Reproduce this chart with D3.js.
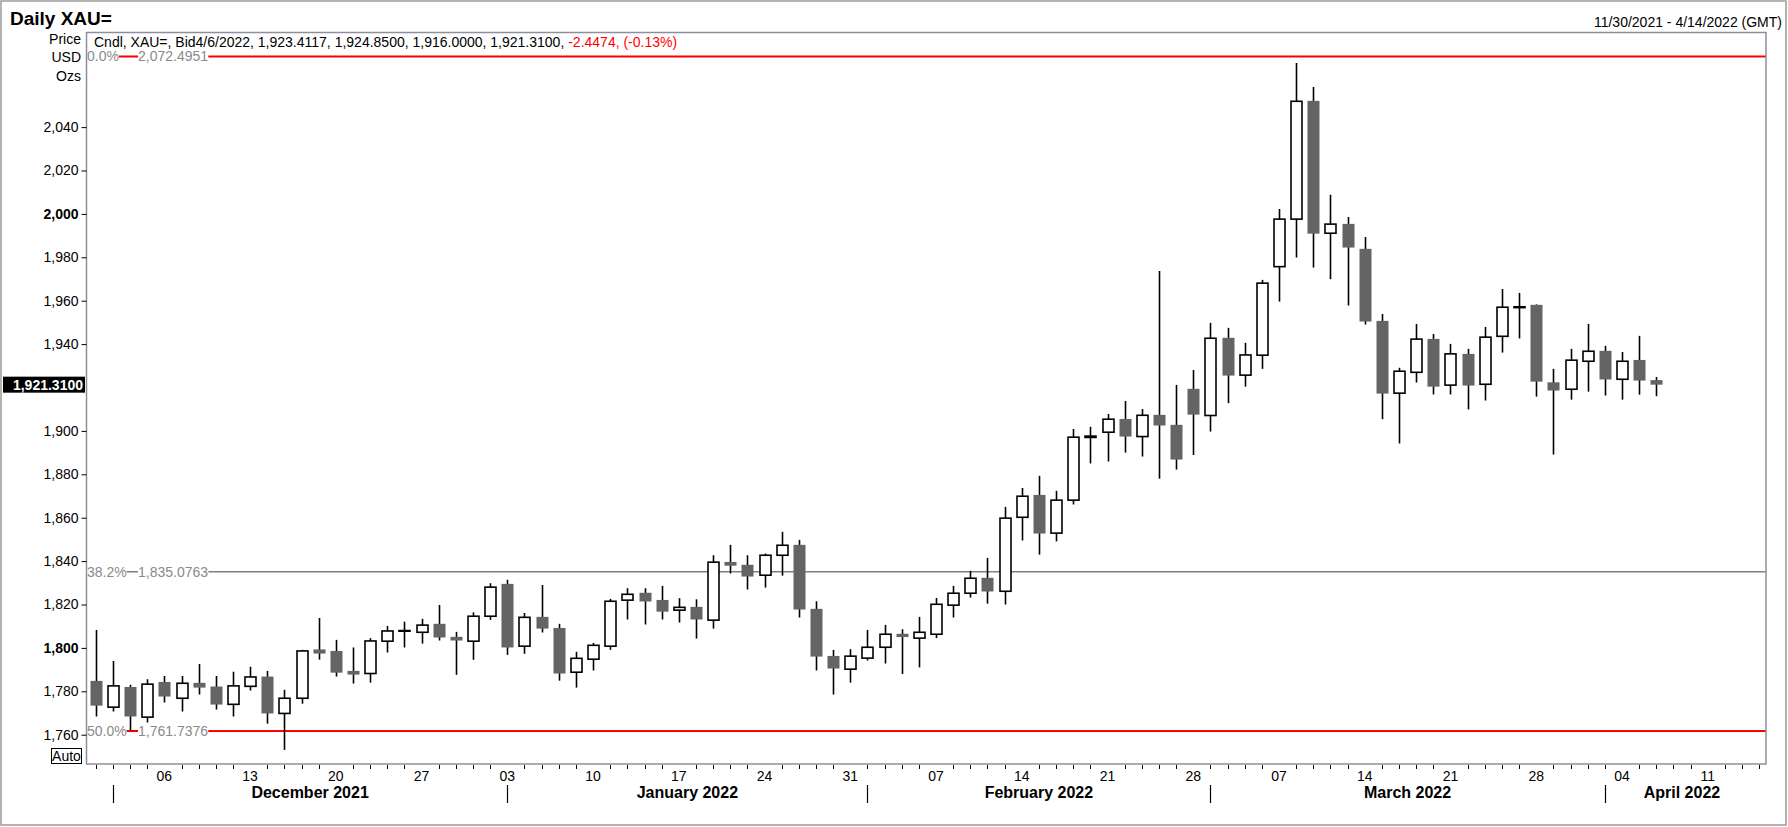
<!DOCTYPE html>
<html><head><meta charset="utf-8">
<script src="https://cdn.jsdelivr.net/npm/d3@7"></script>
<style>
body{margin:0;background:#fff}
svg{display:block}
text{font-family:"Liberation Sans",Arial,Helvetica,sans-serif}
</style>
</head><body>
<svg id="c" width="1788" height="827"></svg>
<script>
// ---- Data ----
const dates = ["2021-11-30","2021-12-01","2021-12-02","2021-12-03","2021-12-06","2021-12-07","2021-12-08","2021-12-09","2021-12-10",
"2021-12-13","2021-12-14","2021-12-15","2021-12-16","2021-12-17","2021-12-20","2021-12-21","2021-12-22","2021-12-23","2021-12-24",
"2021-12-27","2021-12-28","2021-12-29","2021-12-30","2021-12-31","2022-01-03","2022-01-04","2022-01-05","2022-01-06","2022-01-07",
"2022-01-10","2022-01-11","2022-01-12","2022-01-13","2022-01-14","2022-01-17","2022-01-18","2022-01-19","2022-01-20","2022-01-21",
"2022-01-24","2022-01-25","2022-01-26","2022-01-27","2022-01-28","2022-01-31","2022-02-01","2022-02-02","2022-02-03","2022-02-04",
"2022-02-07","2022-02-08","2022-02-09","2022-02-10","2022-02-11","2022-02-14","2022-02-15","2022-02-16","2022-02-17","2022-02-18",
"2022-02-21","2022-02-22","2022-02-23","2022-02-24","2022-02-25","2022-02-28","2022-03-01","2022-03-02","2022-03-03","2022-03-04",
"2022-03-07","2022-03-08","2022-03-09","2022-03-10","2022-03-11","2022-03-14","2022-03-15","2022-03-16","2022-03-17","2022-03-18",
"2022-03-21","2022-03-22","2022-03-23","2022-03-24","2022-03-25","2022-03-28","2022-03-29","2022-03-30","2022-03-31","2022-04-01",
"2022-04-04","2022-04-05","2022-04-06"];

const open = [1784.8,1772.7,1782.0,1768.1,1784.3,1776.8,1783.9,1782.2,1774.0,
1782.3,1786.8,1769.8,1776.8,1799.3,1798.6,1789.4,1788.2,1803.1,1807.7,
1807.2,1811.1,1805.1,1803.1,1814.6,1829.5,1800.8,1814.3,1809.2,1788.8,
1794.8,1800.8,1822.0,1825.4,1822.1,1817.4,1818.9,1812.8,1839.6,1838.3,
1833.5,1842.7,1847.5,1818.0,1796.3,1790.2,1795.3,1800.3,1806.5,1804.5,
1806.3,1819.7,1825.2,1832.3,1826.1,1860.2,1870.5,1852.9,1868.1,1897.0,
1899.4,1905.5,1897.4,1907.4,1902.8,1919.4,1907.1,1942.9,1925.7,1934.9,
1975.7,1997.6,2052.1,1991.1,1995.4,1983.9,1950.7,1917.4,1927.0,1942.4,
1921.1,1935.5,1921.5,1943.6,1956.8,1958.1,1922.4,1919.2,1932.1,1936.9,
1923.8,1932.7,1923.4117];

const high = [1808.3,1794.0,1783.0,1785.6,1787.1,1787.1,1792.6,1787.1,1789.0,
1791.3,1789.4,1780.7,1799.1,1813.8,1803.7,1800.2,1804.5,1810.1,1812.1,
1813.4,1819.8,1807.4,1816.4,1829.8,1831.4,1816.1,1829.0,1811.1,1798.2,
1802.3,1822.6,1827.5,1827.5,1828.6,1822.9,1822.4,1842.7,1847.5,1842.7,
1843.5,1853.5,1849.8,1821.5,1799.1,1799.4,1808.3,1810.6,1808.6,1814.3,
1823.0,1828.6,1835.5,1841.5,1865.0,1873.7,1879.3,1872.4,1900.9,1901.9,
1907.8,1913.8,1910.1,1973.7,1921.2,1928.1,1949.8,1947.5,1940.6,1969.6,
2002.3,2069.6,2058.5,2008.8,1998.6,1989.4,1953.9,1929.1,1949.3,1944.7,
1940.1,1937.8,1947.9,1965.4,1963.6,1958.3,1928.6,1937.8,1949.3,1939.2,
1936.4,1943.8,1924.85];

const low = [1768.4,1770.7,1762.0,1765.6,1774.8,1770.7,1778.5,1771.6,1768.4,
1780.4,1765.1,1753.0,1774.3,1794.6,1786.8,1783.6,1784.0,1797.9,1800.2,
1802.0,1803.4,1787.6,1794.5,1812.9,1796.8,1797.3,1807.1,1784.9,1781.7,
1789.6,1799.1,1813.1,1810.8,1813.1,1811.7,1804.3,1808.9,1834.3,1826.9,
1827.8,1833.3,1814.0,1789.6,1778.5,1784.0,1794.2,1792.8,1788.0,1791.0,
1804.5,1814.0,1823.2,1820.4,1820.0,1849.5,1843.0,1849.1,1866.1,1885.0,
1885.9,1890.0,1888.2,1878.0,1882.2,1888.9,1899.7,1912.8,1920.4,1928.6,
1959.6,1979.9,1975.3,1969.9,1957.8,1949.0,1905.4,1894.2,1922.3,1916.8,
1916.8,1909.9,1914.0,1936.1,1942.6,1915.8,1889.1,1914.4,1918.1,1916.3,
1914.4,1916.7,1916.0];

const close = [1773.4,1782.5,1768.4,1783.3,1777.6,1783.7,1781.7,1773.9,1782.5,
1786.6,1769.8,1776.8,1798.6,1797.4,1788.6,1787.7,1803.2,1807.8,1808.0,
1810.5,1804.8,1803.4,1814.6,1828.0,1800.2,1814.1,1808.9,1788.2,1795.2,
1801.2,1821.5,1824.7,1821.4,1816.7,1818.7,1813.1,1839.5,1837.9,1832.9,
1842.7,1847.3,1817.7,1796.0,1790.5,1796.2,1800.3,1806.3,1805.0,1807.2,
1820.1,1825.2,1832.1,1826.0,1859.8,1869.9,1852.7,1868.1,1897.1,1897.6,
1905.4,1897.4,1907.2,1902.5,1886.8,1907.5,1942.7,1925.5,1935.0,1968.1,
1997.6,2051.9,1990.9,1995.3,1984.5,1950.4,1917.2,1927.5,1942.3,1920.4,
1935.5,1920.9,1943.2,1957.0,1957.2,1922.7,1918.6,1932.6,1936.7,1923.7,
1932.1,1923.2,1921.31];

// 1,920 is hidden behind the last-price tag in the reference
const yTickValues = [1760,1780,1800,1820,1840,1860,1880,1900,1940,1960,1980,2000,2020,2040];
const yBoldTicks = [1800,2000];
const fibLevels = [
  {pct:"0.0%",  value:2072.4951, label:"2,072.4951", color:"#ff0000"},
  {pct:"38.2%", value:1835.0763, label:"1,835.0763", color:"#808080"},
  {pct:"50.0%", value:1761.7376, label:"1,761.7376", color:"#ff0000"}
];
const lastPrice = 1921.31;
const legendMain = "Cndl, XAU=, Bid4/6/2022, 1,923.4117, 1,924.8500, 1,916.0000, 1,921.3100, ";
const legendChange = "-2.4474, (-0.13%)";
const titleText = "Daily XAU=";
const rangeText = "11/30/2021 - 4/14/2022 (GMT)";
const axisStart = "2021-11-30", axisEnd = "2022-04-14";

// ---- Layout ----
const W = 1788, H = 827;
const P = {l:86.5, t:32.5, r:1766, b:764};
const svg = d3.select("#c");
const parse = d3.timeParse("%Y-%m-%d");

// trading-day calendar of the axis (weekdays)
const calendar = d3.timeDay.range(parse(axisStart), d3.timeDay.offset(parse(axisEnd), 1))
  .filter(d => d.getDay() > 0 && d.getDay() < 6);
const idxOf = new Map(calendar.map((d, i) => [+d, i]));

const x = d3.scaleLinear().domain([-0.54, calendar.length - 1 + 0.4]).range([P.l, P.r]);
const y = d3.scaleLinear().domain([1746.5, 2083.6]).range([P.b, P.t]);

const data = dates.map((s, i) => ({i: idxOf.get(+parse(s)), o: open[i], h: high[i], l: low[i], c: close[i]}));

// outer frame
svg.append("rect").attr("x", 1).attr("y", 1).attr("width", W - 3).attr("height", H - 3)
  .attr("fill", "none").attr("stroke", "#9a9a9a").attr("stroke-width", 1.5);

// title & date range
svg.append("text").attr("x", 10).attr("y", 25).attr("font-size", 19).attr("font-weight", "bold").text(titleText);
svg.append("text").attr("x", 1782).attr("y", 27).attr("font-size", 14).attr("text-anchor", "end").text(rangeText);

// clip
svg.append("clipPath").attr("id", "clip").append("rect")
  .attr("x", P.l).attr("y", P.t).attr("width", P.r - P.l).attr("height", P.b - P.t);
const g = svg.append("g").attr("clip-path", "url(#clip)");

// fib lines
fibLevels.forEach(f => {
  g.append("line").attr("x1", P.l).attr("x2", P.r).attr("y1", y(f.value)).attr("y2", y(f.value))
    .attr("stroke", f.color).attr("stroke-width", f.color === "#ff0000" ? 2 : 1.5);
});

// candles
const cw = 12;
const cg = g.append("g");
cg.selectAll("line.wick").data(data).join("line").attr("class", "wick")
  .attr("x1", d => Math.round(x(d.i)) + 0.5).attr("x2", d => Math.round(x(d.i)) + 0.5)
  .attr("y1", d => y(d.h)).attr("y2", d => y(d.l))
  .attr("stroke", "#000").attr("stroke-width", 1.6);
cg.selectAll("rect.body").data(data).join("rect").attr("class", "body")
  .attr("x", d => d.c >= d.o ? Math.round(x(d.i)) + 0.5 - (cw - 1) / 2 : Math.round(x(d.i)) + 0.5 - cw / 2)
  .attr("width", d => d.c >= d.o ? cw - 1 : cw)
  .attr("y", d => y(Math.max(d.o, d.c)))
  .attr("height", d => Math.max(Math.abs(y(d.o) - y(d.c)), 0.6))
  .attr("fill", d => d.c >= d.o ? "#ffffff" : "#646464")
  .attr("stroke", d => d.c >= d.o ? "#000" : "none")
  .attr("stroke-width", 1.6);

// fib labels
fibLevels.forEach(f => {
  const yy = y(f.value);
  [[f.pct, 87], [f.label, 138]].forEach(([t, xx]) => {
    const tx = svg.append("text").attr("x", xx).attr("y", yy).attr("dy", "0.35em")
      .attr("font-size", 14).attr("fill", "#8a8a8a").text(t);
    const bb = tx.node().getBBox();
    svg.insert("rect", () => tx.node()).attr("x", bb.x).attr("y", yy - 6).attr("width", bb.width).attr("height", 12).attr("fill", "#fff");
  });
});

// plot frame
svg.append("rect").attr("x", P.l).attr("y", P.t).attr("width", P.r - P.l).attr("height", P.b - P.t)
  .attr("fill", "none").attr("stroke", "#8e8e9e").attr("stroke-width", 1.5);

// legend
const lg = svg.append("text").attr("x", 94).attr("y", 47).attr("font-size", 14);
lg.append("tspan").attr("fill", "#000").text(legendMain);
lg.append("tspan").attr("fill", "#ff0000").text(legendChange);

// unit labels
[["Price", 44], ["USD", 62], ["Ozs", 81]].forEach(([t, yy]) => {
  svg.append("text").attr("x", 81).attr("y", yy).attr("font-size", 14).attr("text-anchor", "end").text(t);
});

// y axis
const ya = svg.append("g").attr("transform", `translate(${P.l},0)`)
  .call(d3.axisLeft(y).tickValues(yTickValues).tickSize(5).tickPadding(3).tickFormat(d3.format(",")));
ya.select(".domain").remove();
ya.selectAll(".tick line").attr("stroke", "#000");
ya.selectAll(".tick text").attr("font-size", 14).attr("font-family", '"Liberation Sans",Arial,sans-serif')
  .attr("fill", "#000").attr("font-weight", d => yBoldTicks.includes(d) ? "bold" : "normal");

// last price tag
const ly = y(lastPrice);
svg.append("rect").attr("x", 3).attr("y", ly - 8).attr("width", 82).attr("height", 16).attr("fill", "#000");
svg.append("text").attr("x", 83).attr("y", ly).attr("dy", "0.36em").attr("text-anchor", "end")
  .attr("font-size", 14).attr("font-weight", "bold").attr("fill", "#fff").text(d3.format(",.4f")(lastPrice));

// Auto button
svg.append("rect").attr("x", 51.5).attr("y", 748.5).attr("width", 30).attr("height", 15)
  .attr("fill", "#fff").attr("stroke", "#000").attr("stroke-width", 1);
svg.append("text").attr("x", 66.5).attr("y", 761).attr("text-anchor", "middle").attr("font-size", 14).text("Auto");

// x axis: minor day ticks, Monday labels
const xa = svg.append("g");
calendar.forEach((d, i) => {
  if (d.getDay() === 1) {
    xa.append("text").attr("x", x(i)).attr("y", 781).attr("text-anchor", "middle").attr("font-size", 14)
      .text(d3.timeFormat("%d")(d));
  } else {
    xa.append("line").attr("x1", Math.round(x(i)) + 0.5).attr("x2", Math.round(x(i)) + 0.5)
      .attr("y1", P.b + 1).attr("y2", P.b + 5).attr("stroke", "#000").attr("stroke-width", 1);
  }
});
// months
const monthStarts = [];
calendar.forEach((d, i) => {
  if (i === 0 || d.getMonth() !== calendar[i - 1].getMonth()) monthStarts.push({i, d});
});
monthStarts.forEach((m, k) => {
  if (m.i === 0) return; // partial November not labelled
  const next = k + 1 < monthStarts.length ? monthStarts[k + 1].i : calendar.length - 1;
  xa.append("line").attr("x1", Math.round(x(m.i)) + 0.5).attr("x2", Math.round(x(m.i)) + 0.5)
    .attr("y1", 785).attr("y2", 803).attr("stroke", "#000").attr("stroke-width", 1.2);
  xa.append("text").attr("x", (x(m.i) + x(next)) / 2).attr("y", 798).attr("text-anchor", "middle")
    .attr("font-size", 16).attr("font-weight", "bold").text(d3.timeFormat("%B %Y")(m.d));
});
</script>
</body></html>
